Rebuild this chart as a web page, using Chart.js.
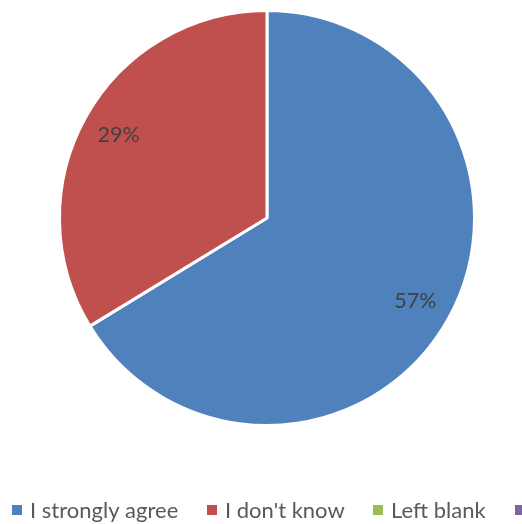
<!DOCTYPE html>
<html>
<head>
<meta charset="utf-8">
<style>
html,body{margin:0;padding:0;background:#fff;}
#wrap{width:522px;height:524px;position:relative;}
</style>
<script src="https://cdn.jsdelivr.net/npm/chart.js@4/dist/chart.umd.min.js"></script>
</head>
<body>
<div id="wrap"><canvas id="c" width="522" height="524"></canvas></div>
<script>
const categories = ["I strongly agree", "I don't know", "Left blank", "Other"];
const values = [57, 29, 0, 0];
const colors = ["#4F81BD", "#C0504D", "#9BBB59", "#8064A2"];

const labelPlugin = {
  id: 'sliceLabels',
  afterDatasetsDraw(chart) {
    const ctx = chart.ctx;
    const meta = chart.getDatasetMeta(0);
    ctx.save();
    ctx.font = '21.5px Lato, "Open Sans", sans-serif';
    ctx.fillStyle = '#404040';
    ctx.textAlign = 'center';
    ctx.textBaseline = 'middle';
    meta.data.forEach((arc, i) => {
      const v = chart.data.datasets[0].data[i];
      if (!v) return;
      const p = arc.getProps(['x','y','startAngle','endAngle','outerRadius'], true);
      const mid = (p.startAngle + p.endAngle) / 2;
      const r = p.outerRadius * 0.82;
      ctx.fillText(v + '%', p.x + Math.cos(mid) * r, p.y + Math.sin(mid) * r);
    });
    ctx.restore();
  }
};

const legendPlugin = {
  id: 'bottomLegend',
  afterDraw(chart) {
    const ctx = chart.ctx;
    const xs = [12, 207, 373, 515];
    ctx.save();
    ctx.font = '22px Lato, "Open Sans", sans-serif';
    ctx.textBaseline = 'alphabetic';
    ctx.textAlign = 'left';
    chart.data.labels.forEach((lab, i) => {
      ctx.fillStyle = chart.data.datasets[0].backgroundColor[i];
      ctx.fillRect(xs[i], 505, 10, 10);
      ctx.fillStyle = '#595959';
      ctx.fillText(lab, xs[i] + 18, 518);
    });
    ctx.restore();
  }
};

new Chart(document.getElementById('c'), {
  type: 'pie',
  data: {
    labels: categories,
    datasets: [{
      data: values,
      backgroundColor: colors,
      borderColor: '#ffffff',
      borderWidth: 3
    }]
  },
  options: {
    responsive: false,
    animation: false,
    layout: { padding: { left: 58, right: 46, top: 9, bottom: 97 } },
    plugins: {
      legend: { display: false },
      tooltip: { enabled: false }
    }
  },
  plugins: [labelPlugin, legendPlugin]
});
</script>
</body>
</html>
